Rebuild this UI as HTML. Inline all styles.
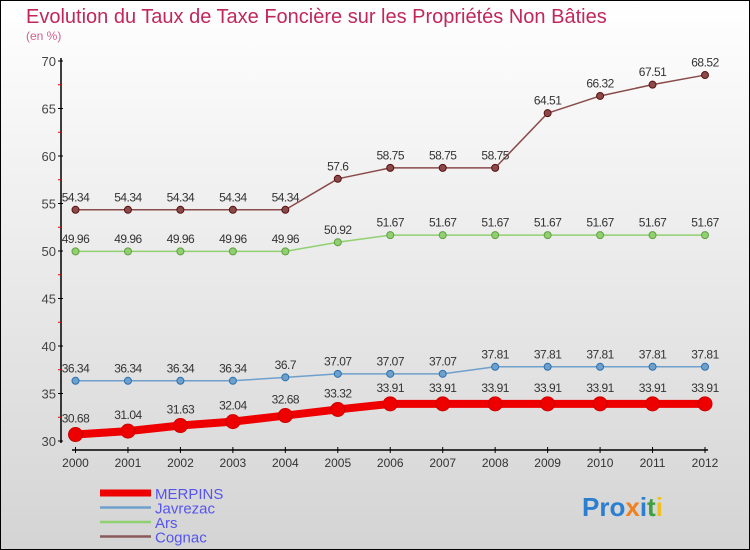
<!DOCTYPE html>
<html><head><meta charset="utf-8"><style>
body{margin:0}
#c{width:750px;height:550px;position:relative;overflow:hidden;font-family:"Liberation Sans",sans-serif}
</style></head><body>
<div id="c">
<svg id="s" width="750" height="550" xmlns="http://www.w3.org/2000/svg">
<defs><linearGradient id="bg" x1="0" y1="0" x2="0" y2="1"><stop offset="0" stop-color="#ffffff"/><stop offset="1" stop-color="#d4d4d4"/></linearGradient></defs>
<rect x="0.5" y="0.5" width="749" height="549" fill="url(#bg)" stroke="#000"/>
<text x="26" y="23" font-size="20" fill="#c0285a">Evolution du Taux de Taxe Foncière sur les Propriétés Non Bâties</text>
<text x="26" y="40" font-size="12" fill="#d0608a">(en %)</text>
<g id="axes"></g>
<g id="series"></g>
<g id="legend"></g>
<g font-size="26" font-weight="bold">
<text x="582" y="516"><tspan fill="#2a7fd0">Pro</tspan><tspan fill="#f08020">x</tspan><tspan fill="#2a7fd0">i</tspan><tspan fill="#40a040">t</tspan><tspan fill="#f0c020">i</tspan></text>
</g>
</svg>
</div>
<script>
const years=[2000,2001,2002,2003,2004,2005,2006,2007,2008,2009,2010,2011,2012];
const yTicks=[30,35,40,45,50,55,60,65,70];
const merpins=[30.68,31.04,31.63,32.04,32.68,33.32,33.91,33.91,33.91,33.91,33.91,33.91,33.91];
const javrezac=[36.34,36.34,36.34,36.34,36.7,37.07,37.07,37.07,37.81,37.81,37.81,37.81,37.81];
const ars=[49.96,49.96,49.96,49.96,49.96,50.92,51.67,51.67,51.67,51.67,51.67,51.67,51.67];
const cognac=[54.34,54.34,54.34,54.34,54.34,57.6,58.75,58.75,58.75,64.51,66.32,67.51,68.52];
const NS="http://www.w3.org/2000/svg";
function X(i){return 75.5+(705-75.5)*i/(years.length-1);}
function Y(v){return 441-(v-30)*(441-61)/40;}
function mk(t,a,p){const e=document.createElementNS(NS,t);for(const k in a)e.setAttribute(k,a[k]);p.appendChild(e);return e;}
const ax=document.getElementById('axes');
let l=mk('line',{x1:61,y1:58,x2:61,y2:443,stroke:'#000','stroke-width':1.5},ax);


l=mk('line',{x1:72,y1:450,x2:708,y2:450,stroke:'#000','stroke-width':1.5},ax);


yTicks.forEach((v,i)=>{
  mk('line',{x1:58,y1:Y(v),x2:63,y2:Y(v),stroke:'#000'},ax);
  if(i<yTicks.length-1)mk('line',{x1:58,y1:Y(v+2.5),x2:61,y2:Y(v+2.5),stroke:'#e00'},ax);
  const t=mk('text',{x:56,y:Y(v)+5,'text-anchor':'end','font-size':13,fill:'#444'},ax);
  t.textContent=v;
  
  
});
years.forEach((y,i)=>{
  mk('line',{x1:X(i),y1:447,x2:X(i),y2:453,stroke:'#000'},ax);
  const t=mk('text',{x:X(i),y:467,'text-anchor':'middle','font-size':12,fill:'#333'},ax);
  t.textContent=y;
  
  
});
const sg=document.getElementById('series');
function draw(name,vals,col,dark,w,r){
  const g=mk('g',{},sg);
  
  
  const pts=vals.map((v,i)=>X(i)+','+Y(v)).join(' ');
  mk('polyline',{points:pts,fill:'none',stroke:col,'stroke-width':w,'stroke-linejoin':'round'},g);
  vals.forEach((v,i)=>{
    const c=mk('circle',{cx:X(i),cy:Y(v),r:r,fill:col,stroke:dark,'stroke-width':1},g);
    
    
    const t=mk('text',{x:X(i),y:Y(v)-(r+5),'text-anchor':'middle','font-size':12,fill:'#333','letter-spacing':'-0.5'},g);
    t.textContent=v;
    
    
  });
}
draw('cognac',cognac,'#8a4a4a','#5a1010',1.5,3.5);
draw('ars',ars,'#90d070','#60a040',1.5,3.5);
draw('javrezac',javrezac,'#6fa0cc','#2a70b0',1.5,3.5);
draw('merpins',merpins,'#ee0000','#cc0000',8,7);
const lg=document.getElementById('legend');
const names=['MERPINS','Javrezac','Ars','Cognac'];
const cols=['#ee0000','#6fa0cc','#90d070','#8a5a5a'];
const ws=[7,2.5,2.5,2.5];
names.forEach((n,i)=>{
  const y=493+i*14.5;
  const e=mk('line',{x1:100,y1:y,x2:151,y2:y,stroke:cols[i],'stroke-width':ws[i]},lg);
  
  
  const t=mk('text',{x:155,y:y+6,'font-size':15,fill:'#5555ee'},lg);
  t.textContent=n;
  
  
});
</script>
</body></html>
